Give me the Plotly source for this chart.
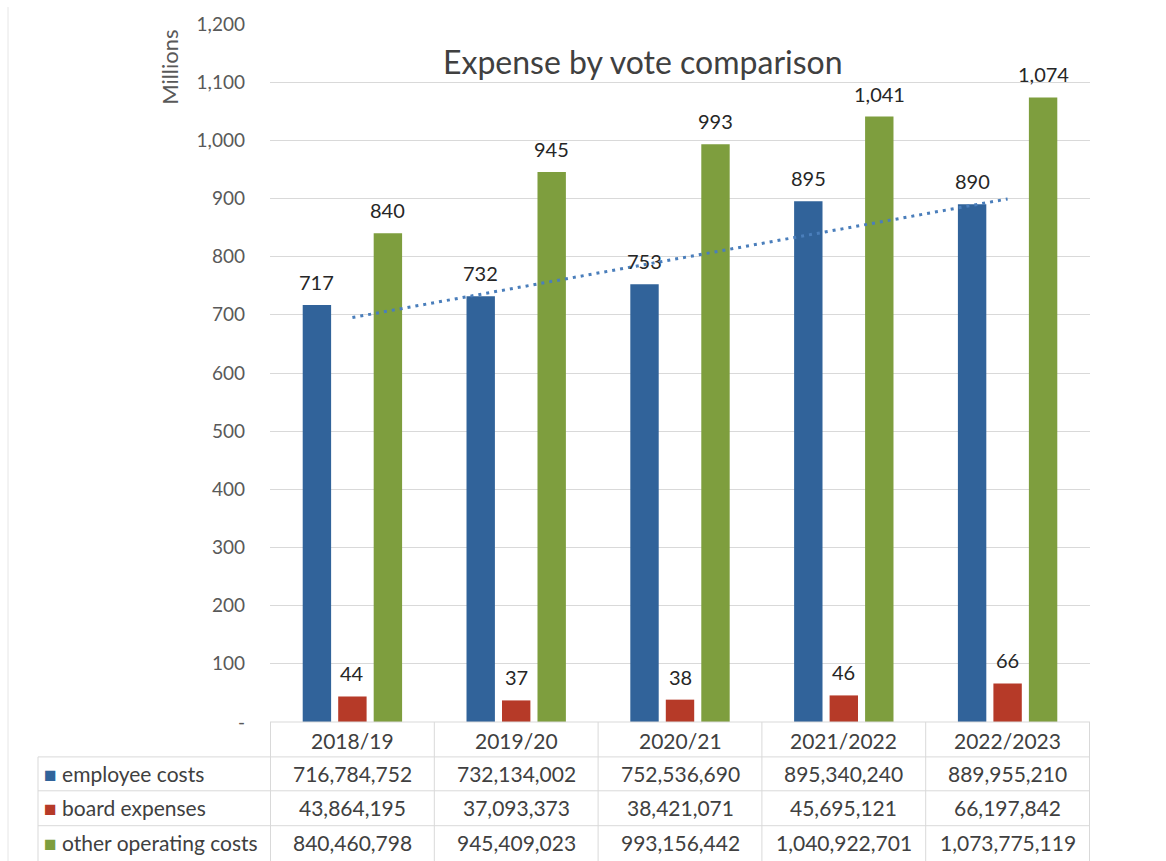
import numpy as np
import plotly.graph_objects as go

categories = ["2018/19", "2019/20", "2020/21", "2021/2022", "2022/2023"]
employee_costs = [716784752, 732134002, 752536690, 895340240, 889955210]
board_expenses = [43864195, 37093373, 38421071, 45695121, 66197842]
other_operating_costs = [840460798, 945409023, 993156442, 1040922701, 1073775119]
series_names = ["employee costs", "board expenses", "other operating costs"]
y_tick_values = [0, 100, 200, 300, 400, 500, 600, 700, 800, 900, 1000, 1100, 1200]
y_tick_labels = ["-", "100", "200", "300", "400", "500", "600", "700", "800", "900",
                 "1,000", "1,100", "1,200"]

colors = ["#31639A", "#B63A28", "#7E9E3E"]
FONT = "Lato, Open Sans, sans-serif"
TXT = "#404040"

series = [employee_costs, board_expenses, other_operating_costs]

W, H = 1166, 861
ML, MR, MT, MB = 270, 76, 22, 139
PW, PH = W - ML - MR, H - MT - MB


def py(pix):
    return (H - MB - pix) / PH


def px(pix):
    return (pix - ML) / PW


fig = go.Figure()
for name, vals, col in zip(series_names, series, colors):
    fig.add_trace(go.Bar(
        x=categories, y=[v / 1e6 for v in vals], name=name,
        marker=dict(color=col, line=dict(width=0)), showlegend=False,
    ))

# linear trendline of employee costs
xi = np.arange(len(categories))
emp_m = np.array(employee_costs) / 1e6
slope, intercept = np.polyfit(xi, emp_m, 1)
fig.add_trace(go.Scatter(
    x=categories, y=slope * xi + intercept, mode="lines",
    line=dict(color="#4A7EBB", width=3, dash="3px,5px"), showlegend=False,
    hoverinfo="skip",
))

annotations = []
slot = PW / len(categories) * (1 - 0.35) / 3
for si, (vals, col) in enumerate(zip(series, colors)):
    for ci, cat in enumerate(categories):
        v = vals[ci] / 1e6
        annotations.append(dict(
            x=cat, y=v, xref="x", yref="y", text=f"{round(v):,}",
            showarrow=False, yanchor="bottom", xshift=(si - 1) * slot, yshift=9,
            font=dict(family=FONT, size=20, color="#262626"),
        ))

# title & axis title
annotations.append(dict(
    x=px(643), y=py(60), xref="paper", yref="paper", text="Expense by vote comparison",
    showarrow=False, xanchor="center", yanchor="middle",
    font=dict(family=FONT, size=32, color=TXT),
))
annotations.append(dict(
    x=px(170), y=py(66), xref="paper", yref="paper", text="Millions", textangle=-90,
    showarrow=False, xanchor="center", yanchor="middle",
    font=dict(family=FONT, size=22, color="#595959"),
))

# data table
TF = 21
row_y = [py(774), py(808), py(843)]
for ci, cat in enumerate(categories):
    annotations.append(dict(
        x=cat, y=py(741), xref="x", yref="paper", text=cat, showarrow=False,
        xanchor="center", yanchor="middle",
        font=dict(family=FONT, size=TF, color=TXT),
    ))
    for ri, vals in enumerate(series):
        annotations.append(dict(
            x=cat, y=row_y[ri], xref="x", yref="paper", text=f"{vals[ci]:,}",
            showarrow=False, xanchor="center", yanchor="middle",
            font=dict(family=FONT, size=TF, color=TXT),
        ))
for ri, (name, col) in enumerate(zip(series_names, colors)):
    annotations.append(dict(
        x=px(42), y=row_y[ri], xref="paper", yref="paper", xanchor="left",
        yanchor="middle",
        text=f'<span style="color:{col}">■</span> {name}', showarrow=False,
        font=dict(family=FONT, size=TF, color=TXT),
    ))

shapes = []
GRID = "#d9d9d9"
# vertical table lines at category boundaries
for b in np.arange(-0.5, len(categories), 1.0):
    shapes.append(dict(type="line", xref="x", yref="paper", x0=b, x1=b,
                       y0=0, y1=py(870), line=dict(color=GRID, width=1)))
# left border of label column
shapes.append(dict(type="line", xref="paper", yref="paper", x0=px(38), x1=px(38),
                   y0=py(757), y1=py(870), line=dict(color=GRID, width=1)))
# horizontal lines
shapes.append(dict(type="line", xref="paper", yref="paper", x0=0, x1=1,
                   y0=0, y1=0, line=dict(color=GRID, width=1)))
for hp in [757, 791, 826]:
    shapes.append(dict(type="line", xref="paper", yref="paper", x0=px(38), x1=1,
                       y0=py(hp), y1=py(hp), line=dict(color=GRID, width=1)))
# faint outer frame edge
shapes.append(dict(type="line", xref="paper", yref="paper", x0=px(8), x1=px(8),
                   y0=py(5), y1=py(870), line=dict(color="#e6e6e6", width=1)))

fig.update_layout(
    width=W, height=H,
    margin=dict(l=ML, r=MR, t=MT, b=MB),
    paper_bgcolor="white", plot_bgcolor="white",
    barmode="group", bargap=0.35, bargroupgap=0.2,
    font=dict(family=FONT, color=TXT),
    xaxis=dict(type="category", showticklabels=False, showgrid=False,
               zeroline=False, showline=False, ticks=""),
    yaxis=dict(range=[0, 1200], tickvals=y_tick_values, ticktext=y_tick_labels,
               showgrid=True, gridcolor=GRID, gridwidth=1, zeroline=False,
               showline=False, ticks="", ticklabelstandoff=24,
               tickfont=dict(family=FONT, size=19, color="#595959")),
    annotations=annotations, shapes=shapes,
)

fig.write_html("out.html", config={"displayModeBar": False},
               post_script="document.body.style.margin='0';document.body.style.overflow='hidden';")
